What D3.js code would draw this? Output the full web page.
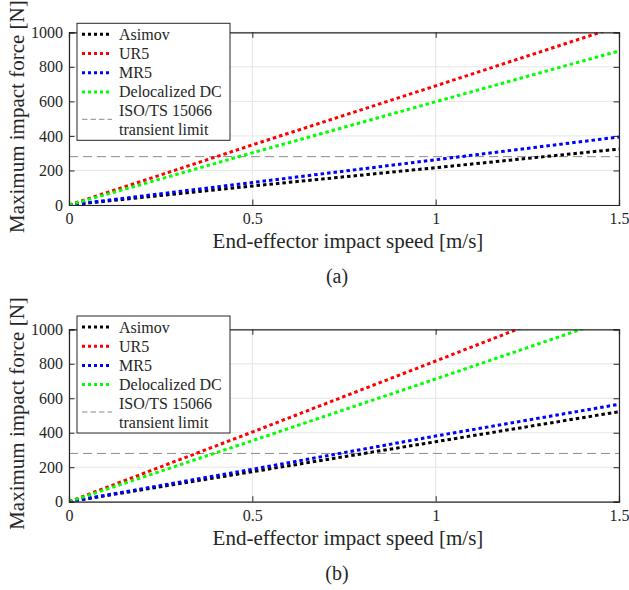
<!DOCTYPE html>
<html>
<head>
<meta charset="utf-8">
<script src="https://cdn.jsdelivr.net/npm/d3@7"></script>
<style>
  body { margin: 0; background: #fff; }
  svg text { font-family: 'Liberation Serif', 'Times New Roman', serif !important; fill: #262626; }
</style>
</head>
<body>
<svg id="chart" width="629" height="590" font-family="Liberation Serif"></svg>
<script>
// Data
const speeds = [0, 0.5, 1, 1.5];
const seriesNames = ['Asimov', 'UR5', 'MR5', 'Delocalized DC'];
const seriesColors = ['#000000', '#ff0000', '#0000ff', '#00ff00'];

// panel (a)
const asimovA = [0, 110, 216, 324];
const ur5A = [0, 348, 690, 1035];
const mr5A = [0, 130, 262, 394];
const delocA = [0, 302, 598, 892];

// panel (b)
const asimovB = [0, 174, 348, 522];
const ur5B = [0, 404, 816, 1230];
const mr5B = [0, 188, 381, 565];
const delocB = [0, 354, 712, 1075];

const isoLimit = 280;
const xTicks = [0, 0.5, 1, 1.5];
const yTicks = [0, 200, 400, 600, 800, 1000];

const svg = d3.select('#chart');
const axisColor = '#262626';
const serif = "'Liberation Serif', 'Times New Roman', serif";

function drawPanel(top, bottom, values, tag, legendTop) {
  const left = 69, right = 619;
  const x = d3.scaleLinear().domain([0, 1.5]).range([left, right]);
  const y = d3.scaleLinear().domain([0, 1000]).range([bottom, top]);
  const g = svg.append('g');
  const clipId = 'clip' + tag;

  g.append('clipPath').attr('id', clipId)
    .append('rect')
    .attr('x', left).attr('y', top)
    .attr('width', right - left).attr('height', bottom - top);

  // grid
  g.append('g').selectAll('line').data(xTicks).join('line')
    .attr('x1', d => x(d)).attr('x2', d => x(d))
    .attr('y1', top).attr('y2', bottom)
    .attr('stroke', '#e6e6e6').attr('stroke-width', 1);
  g.append('g').selectAll('line').data(yTicks).join('line')
    .attr('x1', left).attr('x2', right)
    .attr('y1', d => y(d)).attr('y2', d => y(d))
    .attr('stroke', '#e6e6e6').attr('stroke-width', 1);

  // ISO limit
  g.append('line')
    .attr('x1', left).attr('x2', right)
    .attr('y1', y(isoLimit)).attr('y2', y(isoLimit))
    .attr('stroke', '#8c8c8c').attr('stroke-width', 1)
    .attr('stroke-dasharray', '9,5');

  // series
  const line = d3.line().x((d, i) => x(speeds[i])).y(d => y(d));
  g.append('g').attr('clip-path', `url(#${clipId})`)
    .selectAll('path').data(values).join('path')
    .attr('d', d => line(d))
    .attr('fill', 'none')
    .attr('stroke', (d, i) => seriesColors[i])
    .attr('stroke-width', 3)
    .attr('stroke-dasharray', '3.5,3');

  // axes, ticks inward on all sides
  const tickLen = 5.5;
  const bottomAxis = d3.axisBottom(x).tickValues(xTicks).tickSize(-tickLen).tickPadding(8)
    .tickFormat(d3.format('~g'));
  const topAxis = d3.axisTop(x).tickValues(xTicks).tickSize(-tickLen).tickFormat('');
  const leftAxis = d3.axisLeft(y).tickValues(yTicks).tickSize(-tickLen).tickPadding(6)
    .tickFormat(d3.format('d'));
  const rightAxis = d3.axisRight(y).tickValues(yTicks).tickSize(-tickLen).tickFormat('');

  const axes = [
    g.append('g').attr('transform', `translate(0,${bottom})`).call(bottomAxis),
    g.append('g').attr('transform', `translate(0,${top})`).call(topAxis),
    g.append('g').attr('transform', `translate(${left},0)`).call(leftAxis),
    g.append('g').attr('transform', `translate(${right},0)`).call(rightAxis)
  ];
  axes.forEach(a => {
    a.attr('font-family', serif).attr('font-size', 16);
    a.select('.domain').attr('stroke', axisColor).attr('stroke-width', 1.2);
    a.selectAll('.tick line').attr('stroke', axisColor);
    a.selectAll('.tick text').attr('fill', axisColor)
      .style('font-family', serif).style('font-size', '16px');
  });

  // axis labels
  g.append('text')
    .attr('x', (left + right) / 2 + 4).attr('y', bottom + 43)
    .attr('text-anchor', 'middle').style('font-size', '21px')
    .text('End-effector impact speed [m/s]');
  g.append('text')
    .attr('transform', `translate(24,${(top + bottom) / 2 - 2}) rotate(-90)`)
    .attr('text-anchor', 'middle').style('font-size', '21px')
    .text('Maximum impact force [N]');
  g.append('text')
    .attr('x', (left + right) / 2 - 7).attr('y', bottom + 78)
    .attr('text-anchor', 'middle').style('font-size', '20px')
    .text('(' + tag + ')');

  // legend
  const lg = g.append('g').attr('transform', `translate(77,${legendTop})`);
  lg.append('rect').attr('width', 153).attr('height', 117)
    .attr('fill', '#fff').attr('stroke', axisColor).attr('stroke-width', 1);
  const rows = lg.selectAll('g.row').data(seriesNames).join('g').attr('class', 'row')
    .attr('transform', (d, i) => `translate(0,${11 + i * 19.2})`);
  rows.append('line')
    .attr('x1', 5).attr('x2', 35).attr('y1', 0).attr('y2', 0)
    .attr('stroke', (d, i) => seriesColors[i]).attr('stroke-width', 3)
    .attr('stroke-dasharray', '3,3');
  rows.append('text').attr('x', 42).attr('y', 5.5)
    .style('font-size', '16px').text(d => d);
  lg.append('line')
    .attr('x1', 5).attr('x2', 35).attr('y1', 96).attr('y2', 96)
    .attr('stroke', '#8c8c8c').attr('stroke-width', 1).attr('stroke-dasharray', '5.5,3');
  lg.append('text').attr('x', 42).attr('y', 93).style('font-size', '16px').text('ISO/TS 15066');
  lg.append('text').attr('x', 42).attr('y', 112).style('font-size', '16px').text('transient limit');
}

drawPanel(32.3, 205, [asimovA, ur5A, mr5A, delocA], 'a', 23.3);
drawPanel(329.3, 501.7, [asimovB, ur5B, mr5B, delocB], 'b', 316);
</script>
</body>
</html>
